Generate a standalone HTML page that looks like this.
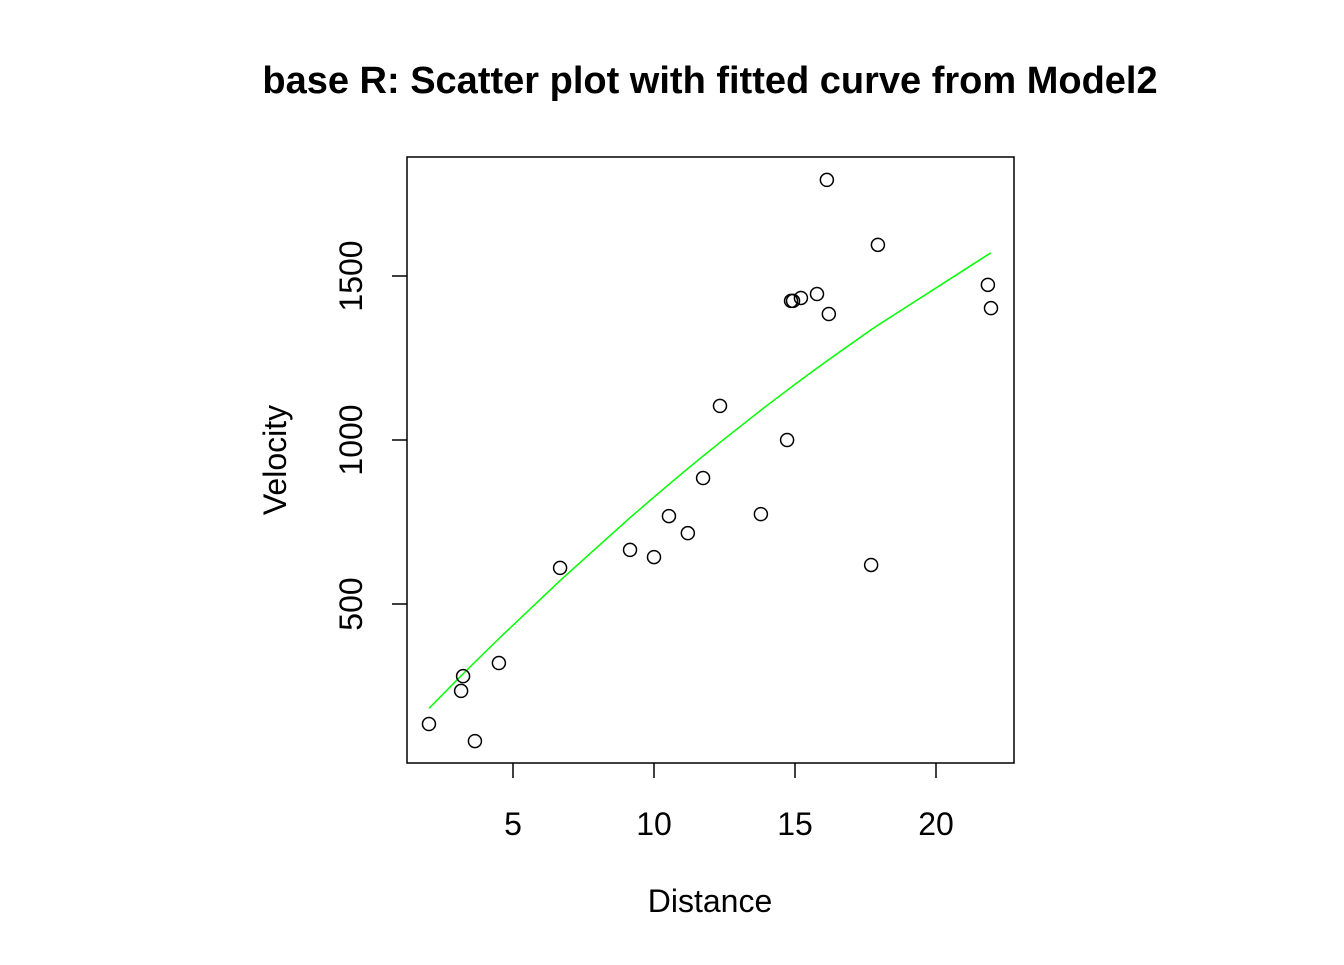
<!DOCTYPE html>
<html><head><meta charset="utf-8"><style>
body{margin:0;background:#fff;}
svg text{font-family:"Liberation Sans",Arial,sans-serif;fill:#000;}
</style></head><body>
<svg id="chart" width="1344" height="960" xmlns="http://www.w3.org/2000/svg">
<rect width="1344" height="960" fill="#fff"/>
<text x="710" y="93" font-size="38" font-weight="bold" text-anchor="middle">base R: Scatter plot with fitted curve from Model2</text>
<rect x="407" y="157" width="607" height="606" fill="none" stroke="#000" stroke-width="1.5"/>
<g id="xaxis"></g>
<g id="yaxis"></g>
<text x="710" y="912" font-size="32" text-anchor="middle">Distance</text>
<text x="0" y="0" font-size="32" text-anchor="middle" transform="translate(286,460) rotate(-90)">Velocity</text>
<g id="curve-g"></g>
<g id="points"></g>
</svg>
<script>
const distance=[2.02,3.16,3.23,3.65,4.50,6.67,9.15,10.0,10.53,11.2,11.74,12.34,13.79,14.72,14.86,14.93,15.21,15.78,16.13,16.2,17.7,17.94,21.84,21.95];
const velocity=[134,235,280,82,320,610,665,643,768,716,884,1104,774,1000,1424,1424,1433,1445,1793,1384,619,1595,1473,1402];
const modelCoefs=[91.85,-0.925];
const xTicks=[5,10,15,20];
const yTicks=[500,1000,1500];
const NS='http://www.w3.org/2000/svg';
function sx(v){return 513+(v-5)*28.2;}
function sy(v){return 604-(v-500)*0.328;}
function mk(tag,attrs,parent){const e=document.createElementNS(NS,tag);for(const k in attrs)e.setAttribute(k,attrs[k]);parent.appendChild(e);return e;}
const xa=document.getElementById('xaxis'),ya=document.getElementById('yaxis');
xTicks.forEach(t=>{
  const l=mk('line',{x1:sx(t),x2:sx(t),y1:763,y2:778,stroke:'#000','stroke-width':1.5},xa);
  
  
  const tx=mk('text',{x:sx(t),y:835,'font-size':32,'text-anchor':'middle'},xa);tx.textContent=t;
  
  
});
yTicks.forEach(t=>{
  const l=mk('line',{x1:392,x2:407,y1:sy(t),y2:sy(t),stroke:'#000','stroke-width':1.5},ya);
  
  
  const tx=mk('text',{x:0,y:0,'font-size':32,'text-anchor':'middle',transform:`translate(362,${sy(t)}) rotate(-90)`},ya);tx.textContent=t;
  
  
});
const sorted=distance.slice().sort((a,b)=>a-b);
const pts=sorted.map(d=>sx(d).toFixed(1)+','+sy(modelCoefs[0]*d+modelCoefs[1]*d*d).toFixed(1)).join(' ');
const c=mk('polyline',{points:pts,fill:'none',stroke:'#00ff00','stroke-width':1.5},document.getElementById('curve-g'));


const pg=document.getElementById('points');
distance.forEach((d,i)=>{
  const p=mk('circle',{cx:sx(d),cy:sy(velocity[i]),r:6.5,fill:'none',stroke:'#000','stroke-width':1.5},pg);
  
  
});
</script>
</body></html>
